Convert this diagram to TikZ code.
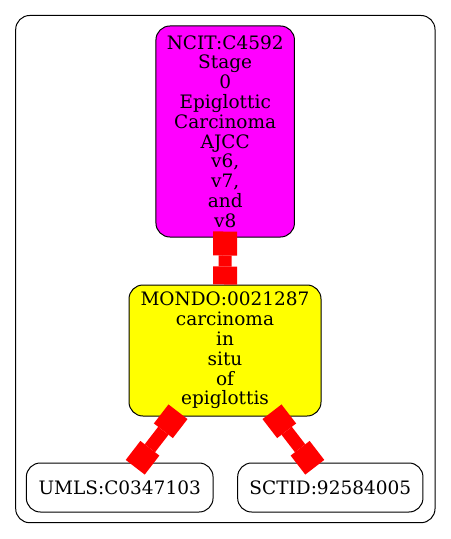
\documentclass[tikz,border=0pt]{standalone}
\usepackage{fontspec}
\setmainfont{DejaVu Serif}
\usetikzlibrary{arrows.meta}

\definecolor{ncitfill}{RGB}{255,0,255}
\definecolor{mondofill}{RGB}{255,255,0}
\definecolor{linkred}{RGB}{255,0,0}

\tikzset{
  boxtip/.tip={Square[length=24bp,width=24bp,line width=0bp]},
  shorttip/.tip={Square[length=18bp,width=24bp,line width=0bp]},
}

\begin{document}
\begin{tikzpicture}[x=1bp, y=-1bp,
    term/.style={draw, line width=1bp, rounded corners=14bp, align=center,
      inner sep=0pt, font=\fontsize{18.5bp}{19.8bp}\selectfont},
    link/.style={linkred, line width=13bp, shorten <=-6bp, shorten >=-6bp}]
    \useasboundingbox (0,0) rectangle (451,539);

    % Riquadro esterno
    \draw[line width=1bp, rounded corners=14bp] (15.7,15.5) rectangle (435,522.7);

    % Termine NCIT
    \node[term, fill=ncitfill, minimum width=138.5bp, minimum height=211bp]
      (ncit) at (225.2,131.5)
      {NCIT:C4592\\Stage\\0\\Epiglottic\\Carcinoma\\AJCC\\v6,\\v7,\\and\\v8};

    % Termine MONDO
    \node[term, fill=mondofill, minimum width=192bp, minimum height=131bp]
      (mondo) at (225,350.5)
      {MONDO:0021287\\carcinoma\\in\\situ\\of\\epiglottis};

    % Riferimenti esterni
    \node[term, minimum width=186.7bp, minimum height=49bp]
      (umls) at (119.7,487.5) {UMLS:C0347103};
    \node[term, minimum width=185.3bp, minimum height=49bp]
      (sctid) at (330.3,487.5) {SCTID:92584005};

    % Collegamenti
    \draw[link, shorten >=0bp, boxtip-shorttip] (ncit) -- (mondo);
    \draw[link, boxtip-boxtip] (mondo) -- (umls);
    \draw[link, boxtip-boxtip] (mondo) -- (sctid);
\end{tikzpicture}
\end{document}
